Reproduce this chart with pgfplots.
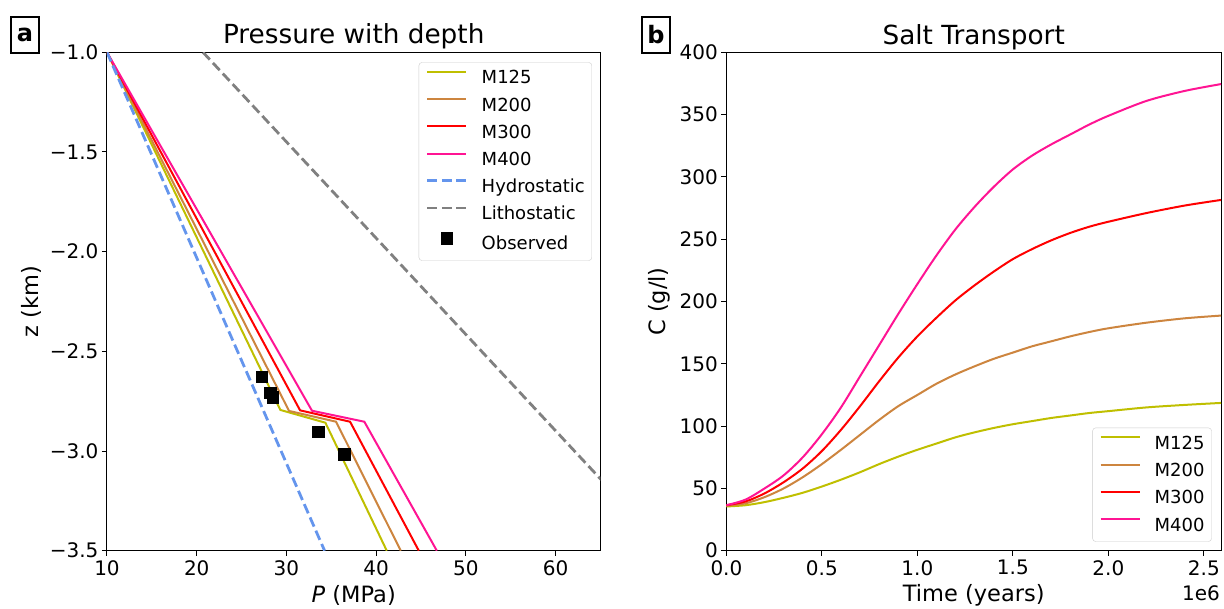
\documentclass[border=0pt]{standalone}
\usepackage{fontspec}
\setmainfont{DejaVu Sans}
\usepackage{pgfplots}
\pgfplotsset{compat=1.18}
\definecolor{cMa}{HTML}{BFBF00}
\definecolor{cMb}{HTML}{CD853F}
\definecolor{cMc}{HTML}{FF0000}
\definecolor{cMd}{HTML}{FF1493}
\definecolor{cHyd}{HTML}{6495ED}
\definecolor{cLit}{HTML}{808080}
\newcommand{\tickfont}{\fontsize{20}{23}\selectfont}
\newcommand{\labfont}{\fontsize{22.5}{26}\selectfont}
\newcommand{\legfont}{\fontsize{18}{21}\selectfont}
\newcommand{\titfont}{\fontsize{26.3}{31}\selectfont}
\pgfplotsset{
  mystyle/.style={
    scale only axis, anchor=south west,
    height=498.4pt,
    axis line style={line width=1pt, black},
    tick align=outside, major tick length=5pt,
    tick style={line width=1pt, black},
    tick pos=left,
    tick label style={font=\tickfont},
    xticklabel style={yshift=-1pt},
    label style={font=\labfont},
    title style={font=\titfont, at={(axis description cs:0.5,1)}, anchor=base, yshift=2.3pt},
    /pgf/number format/assume math mode=true,
    legend cell align=left,
    legend style={draw=black!20, rounded corners=3pt, fill=white, fill opacity=0.8, text opacity=1,
      inner xsep=7pt, inner ysep=6.5pt, row sep=8.2pt, column sep=14pt, font=\legfont,
      nodes={inner sep=0pt, text height=15pt, text depth=4pt}},
    legend image code/.code={\draw[mark repeat=2,mark phase=2,fill opacity=1,draw opacity=1,#1] plot coordinates {(0pt,6.5pt) (19.5pt,6.5pt) (39pt,6.5pt)};},
    every axis plot/.append style={line width=2pt},
  },
  dashedline/.style={line width=2.8pt, dash pattern=on 10pt off 4.5pt},
}
\begin{document}
\begin{tikzpicture}
\path[use as bounding box] (0pt,0pt) rectangle (1224pt,608pt);
% panel a
\begin{axis}[mystyle, at={(107pt,57.3pt)}, width=493.5pt,
  xmin=10, xmax=65, ymin=-3.5, ymax=-1.0,
  xtick={10,20,30,40,50,60}, xticklabels={10,20,30,40,50,60},
  ytick={-3.5,-3.0,-2.5,-2.0,-1.5,-1.0}, yticklabels={−3.5,−3.0,−2.5,−2.0,−1.5,−1.0},
  xlabel={\textit{P} (MPa)}, ylabel={z (km)},
  xlabel style={at={(axis description cs:0.5,-0.089)}, anchor=center},
  ylabel style={at={(axis description cs:-0.154,0.5)}, anchor=center},
  title={Pressure with depth},
  legend style={at={(1,1)}, anchor=north east, xshift=-8.5pt, yshift=-10pt}]
\addplot[cMa] coordinates {(10,-1.0) (29.32,-2.794) (34.34,-2.858) (41.18,-3.5)};
\addlegendentry{M125}
\addplot[cMb] coordinates {(10,-1.0) (30.29,-2.799) (35.53,-2.853) (42.74,-3.5)};
\addlegendentry{M200}
\addplot[cMc] coordinates {(10,-1.0) (31.52,-2.796) (37.09,-2.853) (44.75,-3.5)};
\addlegendentry{M300}
\addplot[cMd] coordinates {(10,-1.0) (32.85,-2.798) (38.68,-2.853) (46.76,-3.5)};
\addlegendentry{M400}
\addplot[cHyd, dashedline] coordinates {(10,-1.0) (34.25,-3.5)};
\addlegendentry{Hydrostatic}
\addplot[cLit, dashedline] coordinates {(20.7,-1.0) (72.45,-3.5)};
\addlegendentry{Lithostatic}
\addplot[only marks, mark=square*, mark size=5.8pt, black, mark options={line width=0.4pt}] coordinates {(27.25,-2.627) (28.17,-2.708) (28.47,-2.731) (33.56,-2.903) (36.45,-3.015)};
\addlegendentry{Observed}
\end{axis}
% panel b
\begin{axis}[mystyle, at={(726.4pt,57.3pt)}, width=494.6pt,
  xmin=0, xmax=2.59, ymin=0, ymax=400,
  xtick={0,0.5,1.0,1.5,2.0,2.5}, xticklabels={0.0,0.5,1.0,1.5,2.0,2.5},
  ytick={0,50,100,150,200,250,300,350,400}, yticklabels={0,50,100,150,200,250,300,350,400},
  xlabel={Time (years)}, ylabel={C (g/l)},
  xlabel style={at={(axis description cs:0.5,-0.089)}, anchor=center},
  ylabel style={at={(axis description cs:-0.136,0.5)}, anchor=center},
  title={Salt Transport},
  legend style={at={(1,0)}, anchor=south east, xshift=-9.3pt, yshift=9pt}]
\addplot[cMa, smooth] coordinates {(0,35.5) (0.1,36.5) (0.2,39) (0.3,42.5) (0.4,46.5) (0.5,51.5) (0.6,57) (0.7,63) (0.8,69.5) (0.9,75.5) (1.0,81) (1.1,86) (1.2,91) (1.3,95) (1.4,98.5) (1.5,101.5) (1.6,104) (1.7,106.5) (1.8,108.5) (1.9,110.5) (2.0,112) (2.2,115) (2.4,117) (2.59,118.6)};
\addlegendentry{M125}
\addplot[cMb, smooth] coordinates {(0,36) (0.1,38) (0.2,43) (0.3,50) (0.4,59) (0.5,69.5) (0.6,81) (0.7,93) (0.8,105) (0.9,116) (1.0,125) (1.1,134) (1.2,141.5) (1.3,148) (1.4,154) (1.5,159) (1.6,164) (1.7,168) (1.8,172) (1.9,175.5) (2.0,178.5) (2.2,183) (2.4,186.5) (2.59,188.7)};
\addlegendentry{M200}
\addplot[cMc, smooth] coordinates {(0,36.5) (0.1,39.5) (0.2,46) (0.3,55) (0.4,66) (0.5,80) (0.6,97) (0.7,116) (0.8,136) (0.9,155) (1.0,172) (1.1,187) (1.2,201) (1.3,213) (1.4,224) (1.5,234) (1.6,242) (1.7,249) (1.8,255) (1.9,260) (2.0,264) (2.2,271) (2.4,277) (2.59,281.5)};
\addlegendentry{M300}
\addplot[cMd, smooth] coordinates {(0,36.5) (0.1,41) (0.2,50) (0.3,60.5) (0.4,75) (0.5,93.5) (0.6,115) (0.7,140) (0.8,165) (0.9,190) (1.0,214) (1.1,237) (1.2,258) (1.3,276) (1.4,292) (1.5,306) (1.6,317) (1.7,326) (1.8,334) (1.9,342) (2.0,349) (2.2,361) (2.4,369) (2.59,374.5)};
\addlegendentry{M400}
\end{axis}
\node[anchor=east, font=\tickfont, inner sep=0pt] at (1220pt,15pt) {1e6};
% panel letters
\node[draw, line width=2pt, inner sep=0pt, minimum width=28pt, minimum height=36pt, font=\bfseries\fontsize{24}{24}\selectfont] at (25pt,573pt) {a};
\node[draw, line width=2pt, inner sep=0pt, minimum width=28pt, minimum height=36pt, font=\bfseries\fontsize{24}{24}\selectfont] at (656pt,573pt) {b};
\end{tikzpicture}
\end{document}
